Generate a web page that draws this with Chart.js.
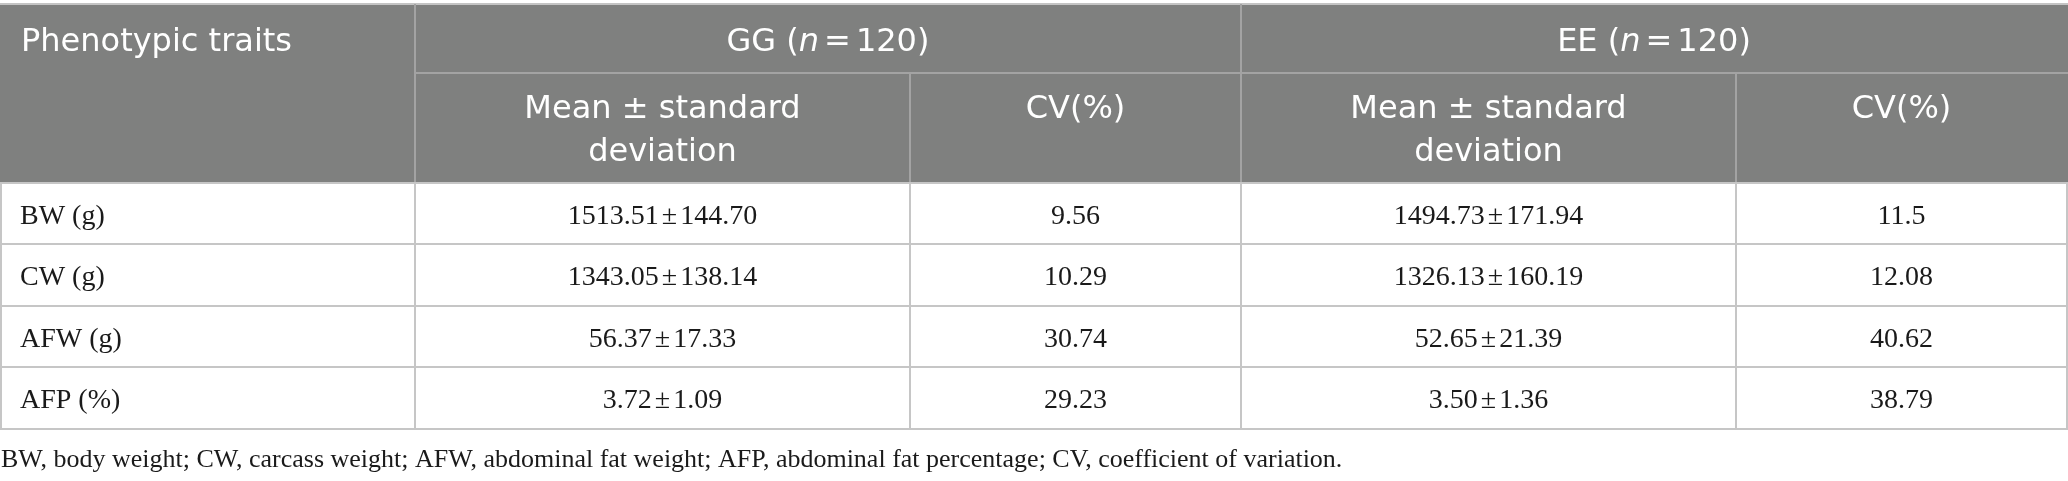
<!DOCTYPE html>
<html>
<head>
<meta charset="utf-8">
<script src="https://cdn.jsdelivr.net/npm/chart.js@4.4.1/dist/chart.umd.min.js"></script>
<style>
  html, body { margin: 0; padding: 0; background: #fff; }
  canvas { display: block; }
</style>
</head>
<body>
<canvas id="tbl" width="2068" height="481"></canvas>
<script>
// table content
const traits = ['BW (g)', 'CW (g)', 'AFW (g)', 'AFP (%)'];
const groups = ['GG', 'EE'];
const groupN = [120, 120];
const ggMean = [1513.51, 1343.05, 56.37, 3.72];
const ggSd = [144.70, 138.14, 17.33, 1.09];
const ggCv = ['9.56', '10.29', '30.74', '29.23'];
const eeMean = [1494.73, 1326.13, 52.65, 3.50];
const eeSd = [171.94, 160.19, 21.39, 1.36];
const eeCv = ['11.5', '12.08', '40.62', '38.79'];
const firstHeader = 'Phenotypic traits';
const subHeaders = [['Mean \u00b1 standard', 'deviation'], ['CV(%)']];
const footnote = 'BW, body weight; CW, carcass weight; AFW, abdominal fat weight; AFP, abdominal fat percentage; CV, coefficient of variation.';

// layout (in scale units)
const colEdges = [0, 415, 910, 1241, 1736, 2067];
const rowEdges = [183, 244, 306, 367, 429];
const headTop = 4, headMid = 73, headBot = 183;

const headFont = '32px "DejaVu Sans"';
const headItalic = 'oblique 32px "DejaVu Sans"';
const bodyFont = '28px "Liberation Serif"';
const noteFont = '26px "Liberation Serif"';

// draw a list of [text, font, gapAfter] pieces centred on cx
function drawPieces(ctx, pieces, cx, y) {
  let w = 0;
  pieces.forEach(p => { ctx.font = p[1]; w += ctx.measureText(p[0]).width + (p[2] || 0); });
  let x = cx - w / 2;
  ctx.textAlign = 'left';
  pieces.forEach(p => {
    ctx.font = p[1];
    ctx.fillText(p[0], x, y);
    x += ctx.measureText(p[0]).width + (p[2] || 0);
  });
}

const tablePlugin = {
  id: 'tablePlugin',
  afterDraw(chart) {
    const ctx = chart.ctx;
    const sx = chart.scales.x, sy = chart.scales.y;
    const X = v => sx.getPixelForValue(v);
    const Y = v => sy.getPixelForValue(v);

    ctx.save();
    // header background
    ctx.fillStyle = '#7f807f';
    ctx.fillRect(X(0), Y(headTop), X(colEdges[5] + 1) - X(0), Y(headBot) - Y(headTop));

    const line = (x1, y1, x2, y2, color) => {
      ctx.strokeStyle = color;
      ctx.lineWidth = 2;
      ctx.beginPath();
      ctx.moveTo(X(x1), Y(y1));
      ctx.lineTo(X(x2), Y(y2));
      ctx.stroke();
    };

    // header lines
    const hl = '#a3a3a3';
    line(0, headTop, colEdges[5] + 1, headTop, '#c4c4c4');
    line(colEdges[1], headTop, colEdges[1], headBot, hl);
    line(colEdges[3], headTop, colEdges[3], headBot, hl);
    line(colEdges[1], headMid, colEdges[5] + 1, headMid, hl);
    line(colEdges[2], headMid, colEdges[2], headBot, hl);
    line(colEdges[4], headMid, colEdges[4], headBot, hl);

    // body grid
    const gl = '#c6c6c6';
    rowEdges.forEach(r => line(0, r, colEdges[5] + 1, r, gl));
    colEdges.forEach((c, i) => line(i === 0 ? 1 : c, headBot, i === 0 ? 1 : c, rowEdges[rowEdges.length - 1], gl));

    // header text
    ctx.fillStyle = '#ffffff';
    ctx.textBaseline = 'alphabetic';
    ctx.font = headFont;
    ctx.textAlign = 'left';
    ctx.fillText(firstHeader, X(21), Y(51));

    groups.forEach((g, gi) => {
      const cx = (X(colEdges[1 + gi * 2]) + X(colEdges[3 + gi * 2])) / 2;
      drawPieces(ctx, [[g + ' (', headFont], ['n', headItalic, 5], ['=', headFont, 5], [groupN[gi] + ')', headFont]], cx, Y(51));

      subHeaders.forEach((lines, si) => {
        const c0 = colEdges[1 + gi * 2 + si], c1 = colEdges[2 + gi * 2 + si];
        ctx.font = headFont;
        ctx.textAlign = 'center';
        lines.forEach((t, li) => ctx.fillText(t, (X(c0) + X(c1)) / 2, Y(118 + li * 43)));
      });
    });

    // body text
    ctx.fillStyle = '#1a1a1a';
    ctx.textBaseline = 'middle';
    const pm = (m, s) => [[m.toFixed(2), bodyFont, 3], ['\u00b1', bodyFont, 3], [s.toFixed(2), bodyFont]];
    traits.forEach((t, i) => {
      const cy = Y((rowEdges[i] + rowEdges[i + 1]) / 2 + 3);
      const mid = ci => (X(colEdges[ci]) + X(colEdges[ci + 1])) / 2;
      ctx.font = bodyFont;
      ctx.textAlign = 'left';
      ctx.fillText(t, X(20), cy);
      drawPieces(ctx, pm(ggMean[i], ggSd[i]), mid(1), cy);
      drawPieces(ctx, [[ggCv[i], bodyFont]], mid(2), cy);
      drawPieces(ctx, pm(eeMean[i], eeSd[i]), mid(3), cy);
      drawPieces(ctx, [[eeCv[i], bodyFont]], mid(4), cy);
    });

    // footnote
    ctx.font = noteFont;
    ctx.textAlign = 'left';
    ctx.textBaseline = 'alphabetic';
    ctx.fillText(footnote, X(1), Y(467));
    ctx.restore();
  }
};

new Chart(document.getElementById('tbl'), {
  type: 'scatter',
  data: { datasets: [] },
  options: {
    responsive: false,
    maintainAspectRatio: false,
    animation: false,
    devicePixelRatio: 1,
    layout: { padding: 0 },
    plugins: { legend: { display: false }, tooltip: { enabled: false } },
    scales: {
      x: { type: 'linear', min: 0, max: 2068, display: false },
      y: { type: 'linear', min: 0, max: 481, reverse: true, display: false }
    }
  },
  plugins: [tablePlugin]
});
</script>
</body>
</html>
